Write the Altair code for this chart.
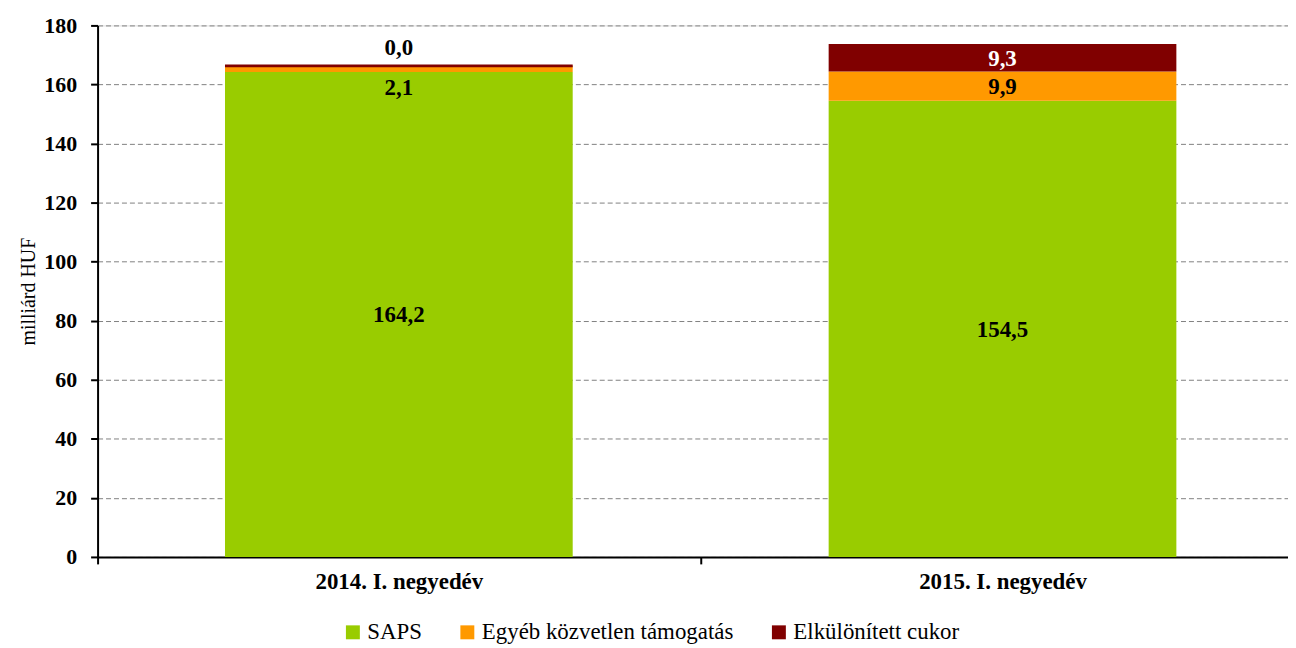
import altair as alt
import pandas as pd

categories = ["2014. I. negyedév", "2015. I. negyedév"]
series = ["SAPS", "Egyéb közvetlen támogatás", "Elkülönített cukor"]
saps = [164.2, 154.5]
egyeb = [2.1, 9.9]
cukor = [0.0, 9.3]
colors = ["#99CC00", "#FF9900", "#800000"]

rows = []
for i, cat in enumerate(categories):
    lo = 0.0
    for k, (name, vals) in enumerate(zip(series, [saps, egyeb, cukor])):
        v = vals[i]
        hi = lo + v
        rows.append({
            "cat": cat, "series": name, "order": k, "value": v,
            "lo": lo, "hi": hi, "mid": (lo + hi) / 2,
            "label": f"{v:.1f}".replace(".", ","),
        })
        lo = hi
df = pd.DataFrame(rows)

FONT = "Liberation Serif"

x_enc = alt.X(
    "cat:N", title=None, sort=categories,
    scale=alt.Scale(paddingInner=0.424, paddingOuter=0.198, align=0.533),
    axis=alt.Axis(labelAngle=0, labelFont=FONT, labelFontSize=23, labelFontWeight="bold",
                  labelColor="black", labelPadding=7, tickOffset=-303, labelOffset=303,
                  tickSize=7, tickWidth=2, tickColor="black", domainColor="black",
                  domainWidth=2, grid=False),
)
y_scale = alt.Scale(domain=[0, 180], nice=False)
y_axis = alt.Axis(values=list(range(0, 181, 20)), title="milliárd HUF", titleFont=FONT,
                  titleFontSize=20, titleFontWeight="normal", titleColor="black",
                  titlePadding=5, labelFont=FONT, labelFontSize=22, labelFontWeight="bold",
                  labelColor="black", labelPadding=14, tickSize=7, tickWidth=2,
                  tickColor="black", domainColor="black", domainWidth=2,
                  grid=True, gridColor="#808080", gridDash=[5, 3], gridWidth=1)

color_scale = alt.Scale(domain=series, range=colors)

bars = alt.Chart(df).mark_bar().encode(
    x=x_enc,
    y=alt.Y("lo:Q", scale=y_scale, axis=y_axis),
    y2="hi:Q",
    color=alt.Color("series:N", scale=color_scale, sort=series,
                    legend=alt.Legend(title=None, orient="none", direction="horizontal",
                                      legendX=245, legendY=598, symbolType="square",
                                      symbolSize=196, symbolStrokeWidth=0,
                                      labelFont=FONT, labelFontSize=23, labelColor="black",
                                      labelLimit=600, labelOffset=3, columnPadding=34)),
    stroke=alt.Stroke("series:N", scale=color_scale, legend=None),
    strokeWidth=alt.condition("datum.value == 0", alt.value(3), alt.value(0)),
)

text_base = alt.Chart(df).encode(
    x=alt.X("cat:N", sort=categories),
    text="label:N",
)
txt_props = dict(font=FONT, fontSize=23, fontWeight="bold")

big = text_base.transform_filter("datum.value >= 3").mark_text(
    baseline="middle", dy=1, **txt_props
).encode(
    y=alt.Y("mid:Q"),
    color=alt.condition("datum.series == 'Elkülönített cukor'", alt.value("white"), alt.value("black")),
)
small = text_base.transform_filter("datum.value > 0 && datum.value < 3").mark_text(
    baseline="top", dy=5, color="black", **txt_props
).encode(y=alt.Y("lo:Q"))
zero = text_base.transform_filter("datum.value == 0").mark_text(
    baseline="bottom", dy=-6, color="black", **txt_props
).encode(y=alt.Y("hi:Q"))

chart = alt.layer(bars, big, small, zero).properties(
    width=1196, height=534,
    autosize=alt.AutoSizeParams(type="none"),
    padding={"left": 90, "top": 16, "right": 0, "bottom": 90},
).configure_view(stroke=None).configure(background="white")

chart.save("out.html", embed_options={"renderer": "svg", "actions": False})
